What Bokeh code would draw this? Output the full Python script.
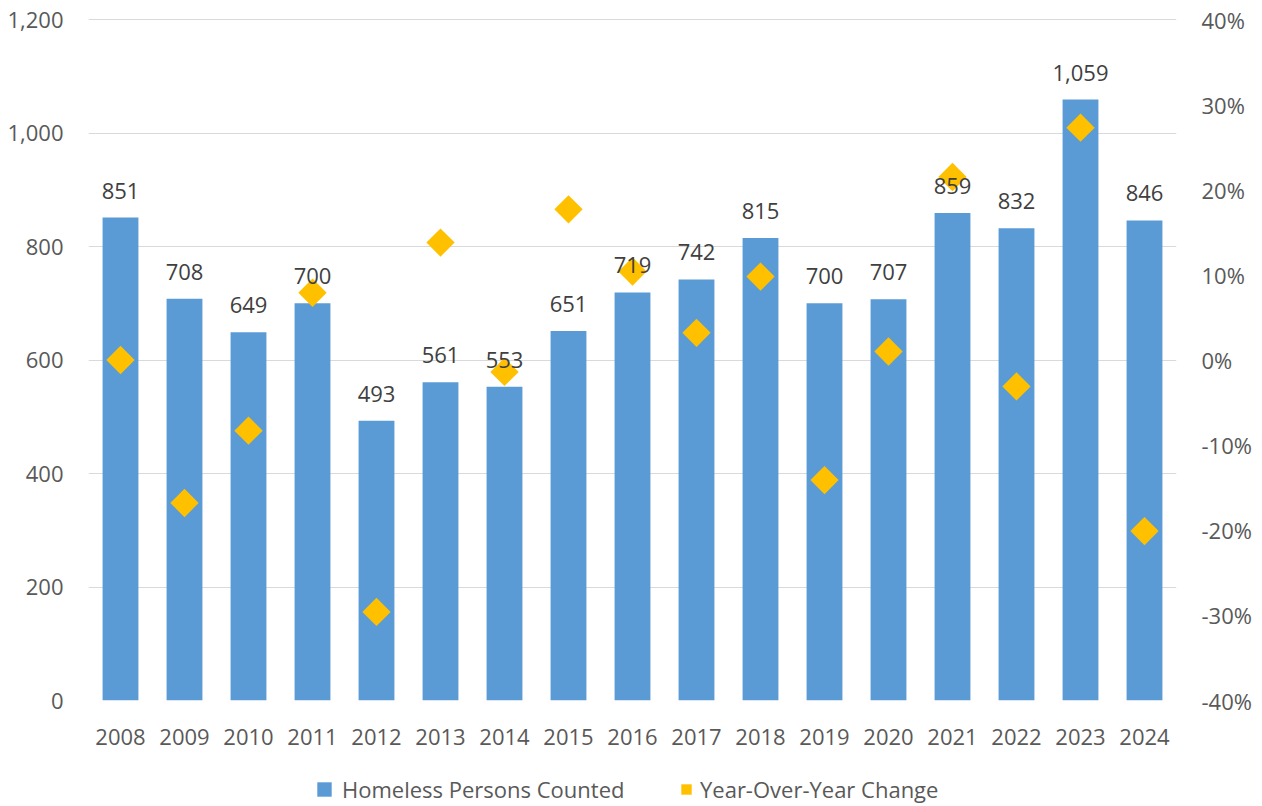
import math
from bokeh.plotting import figure
from bokeh.layouts import column
from bokeh.models import (ColumnDataSource, Range1d, LinearAxis, FixedTicker,
                          NumeralTickFormatter, Legend, LegendItem)
from bokeh.core.properties import value
from bokeh.embed import file_html
from bokeh.resources import INLINE

years = ["2008", "2009", "2010", "2011", "2012", "2013", "2014", "2015", "2016",
         "2017", "2018", "2019", "2020", "2021", "2022", "2023", "2024"]
counts = [851, 708, 649, 700, 493, 561, 553, 651, 719, 742, 815, 700, 707, 859, 832, 1059, 846]
yoy = [0.0, -0.168, -0.083, 0.079, -0.296, 0.138, -0.014, 0.177, 0.104, 0.032,
       0.098, -0.141, 0.010, 0.215, -0.031, 0.273, -0.201]
count_labels = ["851", "708", "649", "700", "493", "561", "553", "651", "719", "742",
                "815", "700", "707", "859", "832", "1,059", "846"]
left_ticks = [0, 200, 400, 600, 800, 1000, 1200]
right_ticks = [-0.4, -0.3, -0.2, -0.1, 0, 0.1, 0.2, 0.3, 0.4]
series_names = ["Homeless Persons Counted", "Year-Over-Year Change"]

FONT = "Open Sans"
TXT = "#595959"
BAR_COLOR = "#5B9BD5"
DIA_COLOR = "#FFC000"

src = ColumnDataSource(dict(year=years, count=counts, yoy=yoy, lab=count_labels))

p = figure(x_range=years, y_range=Range1d(0, 1201.8), frame_width=1088, frame_height=682,
           min_border_left=88, min_border_right=76, min_border_top=18, min_border_bottom=74,
           output_backend="svg", toolbar_location=None)
p.outline_line_color = None
p.extra_y_ranges = {"pct": Range1d(-0.4, -0.4 + 0.8 * 1201.8 / 1200)}

bars = p.vbar(x="year", top="count", width=0.56, source=src,
              fill_color=BAR_COLOR, line_color=None)
dia = p.scatter(x="year", y="yoy", y_range_name="pct", source=src, marker="square",
                angle=math.pi / 4, size=20, fill_color=DIA_COLOR, line_color=None)
p.text(x="year", y="count", text="lab", source=src, text_align="center",
       text_baseline="bottom", y_offset=-19, text_font=value(FONT),
       text_font_size="22px", text_color="#404040")

p.xgrid.grid_line_color = None
p.ygrid.grid_line_color = "#D9D9D9"
p.ygrid.ticker = FixedTicker(ticks=left_ticks)

for ax in (p.xaxis[0], p.yaxis[0]):
    ax.axis_line_color = None
    ax.major_tick_line_color = None
    ax.minor_tick_line_color = None
    ax.major_label_text_font = FONT
    ax.major_label_text_font_size = "22px"
    ax.major_label_text_color = TXT

p.yaxis[0].ticker = FixedTicker(ticks=left_ticks)
p.yaxis[0].formatter = NumeralTickFormatter(format="0,0")
p.yaxis[0].major_label_standoff = 19
p.xaxis[0].major_label_standoff = 22

rax = LinearAxis(y_range_name="pct", ticker=FixedTicker(ticks=right_ticks),
                 formatter=NumeralTickFormatter(format="0%"))
rax.axis_line_color = None
rax.major_tick_line_color = None
rax.minor_tick_line_color = None
rax.major_label_text_font = FONT
rax.major_label_text_font_size = "22px"
rax.major_label_text_color = TXT
rax.major_label_standoff = 19
p.add_layout(rax, "right")

# legend strip below the chart (hidden proxy renderers carry the legend glyph styles)
lg = figure(x_range=Range1d(0, 1), y_range=Range1d(0, 1), frame_width=1252, frame_height=30,
            min_border=0, output_backend="svg", toolbar_location=None,
            x_axis_type=None, y_axis_type=None)
lg.outline_line_color = None
lg.xgrid.visible = False
lg.ygrid.visible = False
lsrc = ColumnDataSource(dict(v=yoy, c=counts))
lbar = lg.vbar(x="v", top="c", width=0.1, source=lsrc, fill_color=BAR_COLOR,
               line_color=None, visible=False)
ldia = lg.scatter(x="v", y="c", source=lsrc, marker="square", angle=math.pi / 4,
                  fill_color=DIA_COLOR, line_color=None, visible=False)

common = dict(orientation="horizontal", border_line_color=None, background_fill_alpha=0,
              label_text_font=FONT, label_text_font_size="22px", label_text_color=TXT,
              label_height=30, padding=0, margin=0)
leg1 = Legend(items=[LegendItem(label=series_names[0], renderers=[lbar])],
              location=(315, 0), glyph_width=18, glyph_height=18, label_standoff=9, **common)
leg2 = Legend(items=[LegendItem(label=series_names[1], renderers=[ldia])],
              location=(673, 0), glyph_width=26, glyph_height=26, label_standoff=1, **common)
lg.add_layout(leg1, "center")
lg.add_layout(leg2, "center")

layout = column(p, lg, spacing=0)
open("out.html", "w").write(file_html(layout, INLINE))
